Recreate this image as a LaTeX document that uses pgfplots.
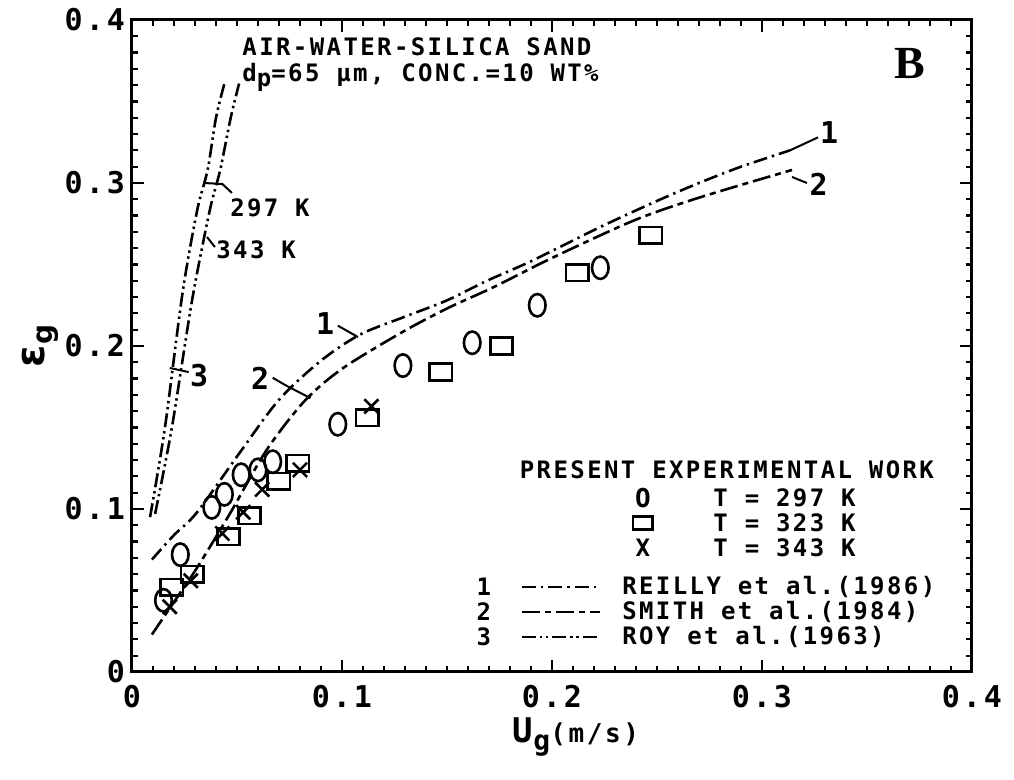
\documentclass[border=0pt]{standalone}
\usepackage{pgfplots}
\pgfplotsset{compat=1.18}
\usepackage{fontspec}
\setmainfont{DejaVu Sans Mono}[LetterSpace=10]
\newfontfamily\symfont{DejaVu Sans}
\newfontfamily\serifB{Liberation Serif}

% measured data: gas holdup vs superficial gas velocity
\pgfplotstableread{
x      y
0.015  0.044
0.023  0.072
0.038  0.101
0.044  0.109
0.052  0.121
0.060  0.124
0.067  0.129
0.098  0.152
0.129  0.188
0.162  0.202
0.193  0.225
0.223  0.248
}\tcold
\pgfplotstableread{
x      y
0.019  0.052
0.0286 0.060
0.046  0.083
0.056  0.096
0.070  0.117
0.079  0.128
0.112  0.156
0.147  0.184
0.176  0.200
0.212  0.245
0.247  0.268
}\tmid
\pgfplotstableread{
x      y
0.018  0.040
0.028  0.056
0.043  0.085
0.053  0.098
0.062  0.112
0.080  0.124
0.114  0.163
}\thot

\newcommand{\txt}{\fontsize{12}{13}\selectfont\bfseries}

\begin{document}
\begin{tikzpicture}
\useasboundingbox (-66pt,-54pt) rectangle (441pt,336pt);
\begin{axis}[
  at={(0pt,0pt)}, anchor=south west,
  scale only axis, width=420pt, height=326pt,
  xmin=0, xmax=0.4, ymin=0, ymax=0.4,
  xtick={0,0.1,0.2,0.3,0.4}, ytick={0,0.1,0.2,0.3,0.4},
  minor tick num=9,
  tick align=inside,
  major tick length=6pt, minor tick length=3pt,
  every tick/.style={black, line width=1.1pt},
  axis line style={line width=1.5pt},
  /pgf/number format/assume math mode=true,
  /pgf/number format/fixed,
  tick label style={font=\fontsize{15}{16}\selectfont\bfseries},
  xticklabel style={yshift=-3pt},
  xlabel={\fontsize{17}{18}\selectfont\bfseries U\raisebox{-0.45ex}{\fontsize{14}{14}\selectfont g}\fontsize{13}{14}\selectfont(m/s)},
  ylabel={\fontsize{20}{20}\selectfont\symfont\bfseries ε\raisebox{-0.4ex}{\fontsize{14}{14}\selectfont\bfseries g}},
  xlabel style={yshift=2pt, xshift=12pt},
  ylabel style={yshift=-4pt},
  clip=false,
]
% Roy et al. (1963), 297 K and 343 K
\addplot[line width=1.3pt, dash pattern=on 7pt off 2pt on 1.2pt off 1.8pt on 1.2pt off 2pt, smooth]
  coordinates {(0.0086,0.095) (0.0157,0.150) (0.024,0.232) (0.031,0.283) (0.036,0.308) (0.040,0.340) (0.044,0.361)};
\addplot[line width=1.3pt, dash pattern=on 7pt off 2pt on 1.2pt off 1.8pt on 1.2pt off 2pt, smooth]
  coordinates {(0.011,0.097) (0.019,0.150) (0.0286,0.228) (0.037,0.283) (0.042,0.308) (0.047,0.340) (0.051,0.361)};
% Reilly et al. (1986)
\addplot[line width=1.3pt, dash pattern=on 7pt off 2.5pt on 1.2pt off 2.5pt, smooth]
  coordinates {(0.0095,0.069) (0.02,0.084) (0.031,0.098) (0.051,0.134) (0.070,0.167) (0.09,0.191) (0.1086,0.207) (0.13,0.218) (0.15,0.228) (0.169,0.240) (0.19,0.252) (0.223,0.273) (0.25,0.289) (0.27,0.300) (0.29,0.310) (0.3133,0.320)};
% Smith et al. (1984)
\addplot[line width=1.3pt, dash pattern=on 9pt off 2.5pt on 3pt off 2.5pt, smooth]
  coordinates {(0.0095,0.023) (0.02,0.043) (0.031,0.064) (0.047,0.098) (0.064,0.136) (0.082,0.166) (0.10,0.186) (0.128,0.208) (0.15,0.223) (0.172,0.236) (0.20,0.254) (0.239,0.277) (0.27,0.291) (0.3143,0.308)};
% experimental points
\addplot[only marks, mark=o, mark size=5.6pt, mark options={xscale=0.74, line width=1.3pt}] table {\tcold};
\addplot[only marks, mark=square, mark size=5.6pt, mark options={yscale=0.74, line width=1.3pt}] table {\tmid};
\addplot[only marks, mark=x, mark size=5pt, mark options={line width=1.3pt}] table {\thot};

% annotations
\node[anchor=west, inner sep=0pt] at (axis cs:0.0524,0.3834) {\txt AIR-WATER-SILICA SAND};
\node[anchor=west, inner sep=0pt] at (axis cs:0.0524,0.3650) {\txt d\raisebox{-0.4ex}{p}=65 µm, CONC.=10 WT\%};
\node[inner sep=0pt] at (axis cs:0.3705,0.3736) {\fontsize{23}{24}\selectfont\serifB\bfseries B};

\draw[line width=1pt] (axis cs:0.0343,0.300) -- (axis cs:0.043,0.2994) -- (axis cs:0.0476,0.2939);
\node[anchor=west, inner sep=0pt] at (axis cs:0.0466,0.2850) {\txt 297 K};
\draw[line width=1pt] (axis cs:0.0357,0.2669) -- (axis cs:0.0395,0.2607);
\node[anchor=west, inner sep=0pt] at (axis cs:0.0400,0.2590) {\txt 343 K};
\draw[line width=1pt] (axis cs:0.018,0.1865) -- (axis cs:0.027,0.184);
\node[anchor=west, inner sep=0pt] at (axis cs:0.0275,0.1820) {\fontsize{15}{16}\selectfont\bfseries 3};

\node[inner sep=0pt] at (axis cs:0.092,0.2135) {\fontsize{15}{16}\selectfont\bfseries 1};
\draw[line width=1pt] (axis cs:0.098,0.2125) -- (axis cs:0.1076,0.2055);
\node[inner sep=0pt] at (axis cs:0.061,0.180) {\fontsize{15}{16}\selectfont\bfseries 2};
\draw[line width=1pt] (axis cs:0.067,0.1805) -- (axis cs:0.073,0.176) -- (axis cs:0.085,0.168);

\draw[line width=1pt] (axis cs:0.3133,0.320) -- (axis cs:0.3267,0.328);
\node[anchor=west, inner sep=0pt] at (axis cs:0.3275,0.331) {\fontsize{15}{16}\selectfont\bfseries 1};
\draw[line width=1pt] (axis cs:0.3143,0.3037) -- (axis cs:0.3214,0.300);
\node[anchor=west, inner sep=0pt] at (axis cs:0.3225,0.299) {\fontsize{15}{16}\selectfont\bfseries 2};

% key
\node[inner sep=0pt] at (axis cs:0.2833,0.1239) {\txt PRESENT EXPERIMENTAL WORK};
\node[inner sep=0pt] at (axis cs:0.2433,0.1067) {\fontsize{13}{14}\selectfont\bfseries O};
\draw[line width=1.3pt] (axis cs:0.2386,0.0874) rectangle (axis cs:0.2480,0.0954);
\node[inner sep=0pt] at (axis cs:0.2433,0.0761) {\txt X};
\node[anchor=west, inner sep=0pt] at (axis cs:0.2767,0.1067) {\txt T = 297 K};
\node[anchor=west, inner sep=0pt] at (axis cs:0.2767,0.0914) {\txt T = 323 K};
\node[anchor=west, inner sep=0pt] at (axis cs:0.2767,0.0761) {\txt T = 343 K};

\node[inner sep=0pt] at (axis cs:0.1676,0.0521) {\txt 1};
\node[inner sep=0pt] at (axis cs:0.1676,0.0368) {\txt 2};
\node[inner sep=0pt] at (axis cs:0.1676,0.0215) {\txt 3};
\draw[line width=1.3pt, dash pattern=on 7pt off 2.5pt on 1.2pt off 2.5pt] (axis cs:0.1857,0.0521) -- (axis cs:0.2229,0.0521);
\draw[line width=1.3pt, dash pattern=on 9pt off 2.5pt on 3pt off 2.5pt] (axis cs:0.1857,0.0368) -- (axis cs:0.2229,0.0368);
\draw[line width=1.3pt, dash pattern=on 7pt off 2pt on 1.2pt off 1.8pt on 1.2pt off 2pt] (axis cs:0.1857,0.0215) -- (axis cs:0.2229,0.0215);
\node[anchor=west, inner sep=0pt] at (axis cs:0.2333,0.0521) {\txt REILLY et al.(1986)};
\node[anchor=west, inner sep=0pt] at (axis cs:0.2333,0.0368) {\txt SMITH et al.(1984)};
\node[anchor=west, inner sep=0pt] at (axis cs:0.2333,0.0215) {\txt ROY et al.(1963)};
\end{axis}
\end{tikzpicture}
\end{document}
